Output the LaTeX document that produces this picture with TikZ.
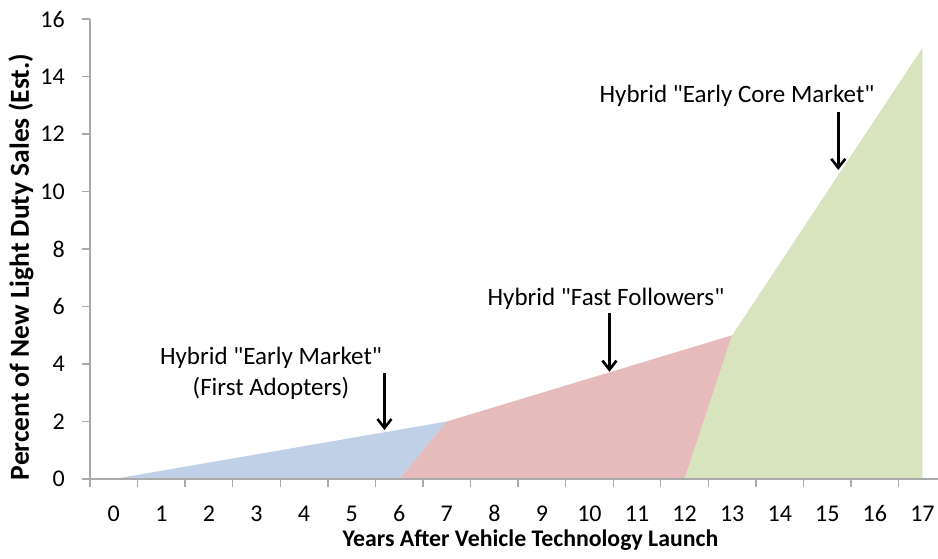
\documentclass[tikz,border=0pt]{standalone}
\usepackage{fontspec}
\setmainfont{Carlito}[Ligatures=TeXOff]
\usetikzlibrary{arrows.meta}
\definecolor{earlyblue}{RGB}{192,209,231}
\definecolor{fastpink}{RGB}{230,187,188}
\definecolor{coregreen}{RGB}{216,228,190}
\definecolor{axisgray}{RGB}{170,170,170}
\begin{document}
\begin{tikzpicture}[x=47.57pt,y=28.75pt,font=\fontsize{24}{31}\selectfont,
    axis/.style={draw=axisgray,line width=1.3pt},
    note/.style={font=\fontsize{25}{31}\selectfont},
    pointer/.style={-{Straight Barb[length=9pt,width=14pt]},line width=2.6pt}]
    \useasboundingbox (-90pt,-80pt) rectangle (848pt,479pt);
    % market shares, one area per buyer group
    \fill[earlyblue] (.5,0) -- (7.5,2) -- (6.5,0) -- cycle;
    \fill[fastpink] (6.5,0) -- (7.5,2) -- (13.5,5) -- (12.5,0) -- cycle;
    \fill[coregreen] (12.5,0) -- (13.5,5) -- (17.5,15) -- (17.5,0) -- cycle;
    % axes
    \draw[axis] (0,16) -- (0,0) -- (848pt,0);
    \foreach \k in {0,...,17} {
        \draw[axis] (\k,0) -- ++(0,-8pt);
        \node[anchor=base,yshift=-42.5pt] (xl\k) at (\k+.5,0) {\k};
    }
    \foreach \v in {0,2,...,16} {
        \draw[axis] (0,\v) -- ++(-8pt,0);
        \node[anchor=east,inner sep=0,xshift=-25pt] (yl\v) at (0,\v) {\v};
    }
    \node[anchor=base,font=\fontsize{23.8}{28}\selectfont\bfseries] (xtitle) at (440.5pt,-68pt) {Years After Vehicle Technology Launch};
    \node[rotate=90,font=\fontsize{27.5}{32}\selectfont\bfseries] (ytitle) at (-69pt,212pt) {Percent of New Light Duty Sales (Est.)};
    % labels and pointers
    \node[note,align=center,anchor=base] (earlylbl) at (181pt,83pt) {Hybrid "Early Market"\\(First Adopters)};
    \node[note,anchor=base] (fastlbl) at (516pt,173pt) {Hybrid "Fast Followers"};
    \node[note,anchor=base] (corelbl) at (647pt,376pt) {Hybrid "Early Core Market"};
    \coordinate (earlytop) at (6.19,3.69);
    \coordinate (earlytip) at (6.19,1.70);
    \coordinate (fasttop) at (10.92,5.77);
    \coordinate (fasttip) at (10.92,3.73);
    \coordinate (coretop) at (15.73,12.78);
    \coordinate (coretip) at (15.73,10.75);
    \draw[pointer] (earlytop) -- (earlytip);
    \draw[pointer] (fasttop) -- (fasttip);
    \draw[pointer] (coretop) -- (coretip);
\end{tikzpicture}
\end{document}
